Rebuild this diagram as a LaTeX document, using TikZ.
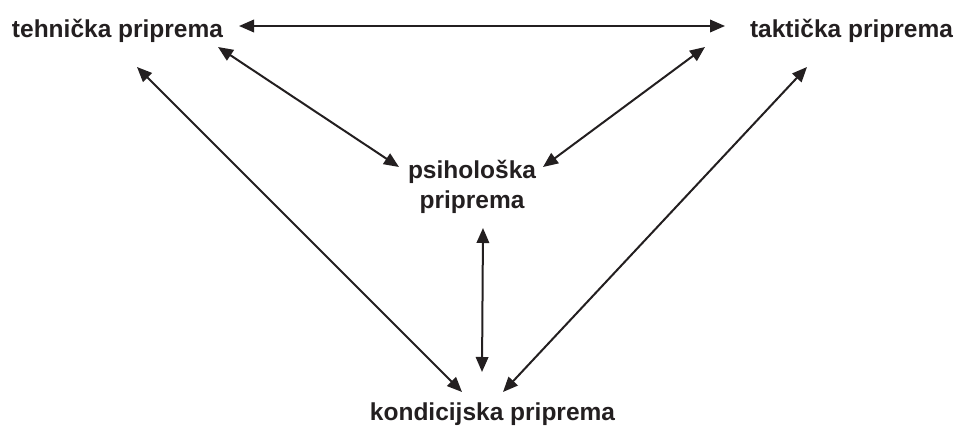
\documentclass[tikz,border=0pt]{standalone}
\usepackage{fontspec}
\setmainfont{Liberation Sans}
\usetikzlibrary{arrows.meta,calc}
\definecolor{ink}{HTML}{231F20}
\begin{document}
\begin{tikzpicture}[x=1pt,y=-1pt,
  lbl/.style={inner sep=0pt,text=ink,font=\fontsize{24.5}{30}\selectfont\bfseries},
  arr/.style={draw=ink,line width=2pt,{Triangle[length=15pt,width=12.5pt]}-{Triangle[length=15pt,width=12.5pt]}}]
\useasboundingbox (0,0) rectangle (955,426);
\node[lbl,anchor=base] (tech) at (117.5,37) {tehnička priprema};
\node[lbl,anchor=base] (takt) at (851.5,37) {taktička priprema};
\node[lbl,align=center] (psih) at (472,186.5) {psihološka\\priprema};
\node[lbl,anchor=base] (kond) at (492.5,420) {kondicijska priprema};
% connectors
\draw[arr] ($(tech.base)+(121.5,-11)$) -- ($(takt.base)+(-126.5,-11)$);
\draw[arr] ($(tech.base)+(100.5,10)$) -- ($(psih)+(-73,-19.5)$);
\draw[arr] ($(takt.base)+(-146.5,10)$) -- ($(psih)+(71,-19.5)$);
\draw[arr] ($(tech.base)+(19.5,30)$) -- ($(kond.base)+(-30.5,-28)$);
\draw[arr] ($(takt.base)+(-44.5,30)$) -- ($(kond.base)+(10.5,-28)$);
\draw[arr] ($(psih)+(11,41.5)$) -- ($(kond.base)+(-10.5,-48)$);
\end{tikzpicture}
\end{document}
